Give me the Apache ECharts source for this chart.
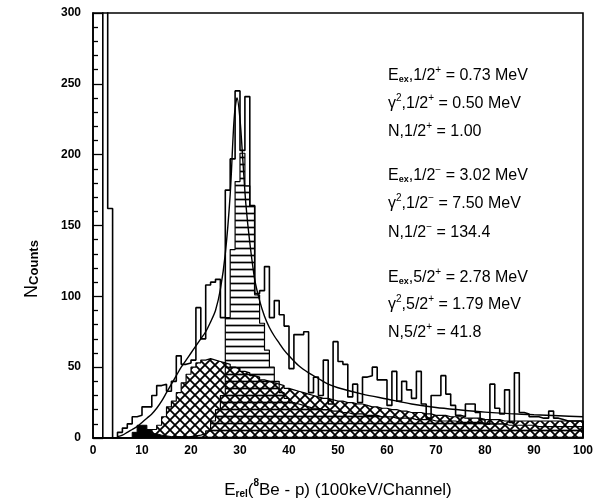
<!DOCTYPE html>
<html>
<head>
<meta charset="utf-8">
<script src="https://cdn.jsdelivr.net/npm/echarts@6/dist/echarts.min.js"></script>
<style>
html, body { margin: 0; padding: 0; background: #fff; }
#main { width: 596px; height: 504px; }
</style>
</head>
<body>
<div id="main"></div>
<script>
// counts per channel, bin i covers [i, i+1]
var dataCounts = [
    0, 0, 320, 162, 0, 4, 7, 10, 15, 16,
    22, 22, 30, 37, 38, 33, 40, 58, 52, 53,
    55, 92, 70, 108, 110, 112, 85, 175, 197, 245,
    203, 241, 164, 102, 104, 121, 85, 97, 87, 79,
    49, 73, 73, 75, 32, 43, 30, 55, 24, 68,
    54, 52, 29, 38, 25, 43, 44, 50, 41, 41,
    23, 47, 26, 40, 34, 28, 47, 24, 14, 30,
    30, 44, 31, 23, 16, 15, 24, 24, 18, 13,
    10, 38, 21, 17, 34, 11, 46, 18, 17, 15,
    15, 14, 14, 19, 14, 13, 12, 12, 12, 12
];
// horizontally hatched component
var narrowComp = [
    0, 0, 0, 0, 0, 0, 0, 0, 0, 0,
    0, 0, 0, 0, 0, 0, 0, 0, 0.5, 1,
    1.5, 2, 3, 5, 12, 20, 30, 85, 133, 181,
    201, 178, 164, 101, 81, 62, 50, 40, 32, 28,
    25, 24, 23, 22, 21, 21, 20, 20, 19, 19,
    18, 18, 17, 17, 17, 16, 16, 16, 15, 15,
    15, 14, 14, 14, 14, 13, 13, 13, 13, 12,
    12, 12, 12, 12, 11, 11, 11, 11, 11, 10,
    10, 10, 10, 10, 9, 9, 9, 9, 9, 9,
    8, 8, 8, 8, 8, 8, 8, 8, 8, 8
];
// cross hatched component
var broadComp = [
    0, 0, 0, 0, 0, 0, 0, 0, 0, 0,
    0.5, 2, 6, 9, 15, 22, 26, 32, 39, 45,
    50, 53, 55, 56, 55, 54, 53, 52, 50, 49,
    47, 46, 44, 43, 41, 40, 39, 38, 37, 35,
    34, 33, 32, 31, 30, 29, 28, 28, 27, 26,
    26, 25, 25, 24, 24, 23, 22, 22, 21, 21,
    20, 20, 19, 19, 18, 18, 18, 17, 17, 16,
    16, 16, 15, 15, 15, 14, 14, 14, 14, 13,
    13, 13, 13, 12, 12, 12, 12, 12, 12, 12,
    12, 12, 12, 12, 12, 12, 12, 12, 12, 12
];
// black filled component
var blackComp = [
    0, 0, 0, 0, 0, 0, 0, 0, 4, 9,
    9, 6, 3, 2, 1.5, 1, 1, 1, 0.8, 0.6,
    0.5, 0.4, 0.3, 0.3, 0.3, 0.3, 0.3, 0.3, 0, 0
];
// total fit curve
var fitX = [5, 6, 7, 8, 9, 10, 11, 12, 13, 14, 15, 16, 17, 18, 19, 20, 21, 22, 23, 24, 25, 26, 27, 28,
    28.8, 29.4, 30, 30.6, 31.2, 32, 33, 34, 35, 36, 37, 38, 39, 40, 42, 44, 46, 48, 50,
    55, 60, 65, 70, 75, 80, 85, 90, 95, 100];
var fitY = [1, 2, 4, 6, 8, 11, 14, 17, 21, 26, 32, 38, 44, 50, 55, 60, 65, 70, 75, 82, 90, 105, 130, 172,
    225, 240, 225, 195, 165, 138, 112, 97, 86, 78, 72, 67, 62, 58, 51, 46, 42, 38, 35.5,
    31, 27.5, 24, 21.5, 19.8, 18.3, 17.2, 16.4, 15.7, 15];

function histPoints(arr) {
    var pts = [];
    for (var i = 0; i < arr.length; i++) {
        pts.push([i, arr[i]]);
        pts.push([i + 1, arr[i]]);
    }
    pts.push([arr.length, 0]);
    return pts;
}

function makeHatch(type) {
    var c = document.createElement('canvas');
    var ctx = c.getContext('2d');
    ctx.strokeStyle = '#000';
    if (type == 'h') {
        c.width = 8; c.height = 7;
        ctx.lineWidth = 1.7;
        ctx.beginPath();
        ctx.moveTo(0, 3.5); ctx.lineTo(8, 3.5);
        ctx.stroke();
    } else {
        c.width = 10; c.height = 10;
        ctx.lineWidth = 1.8;
        ctx.beginPath();
        ctx.moveTo(-5, -5); ctx.lineTo(15, 15);
        ctx.moveTo(15, -5); ctx.lineTo(-5, 15);
        ctx.stroke();
    }
    return c;
}

var fitData = [];
for (var k = 0; k < fitX.length; k++) fitData.push([fitX[k], fitY[k]]);

var font = 'Liberation Sans';
var txt = { fontFamily: font, fontSize: 16, color: '#000', lineHeight: 19, verticalAlign: 'bottom' };
var sub = { fontFamily: font, fontSize: 9, color: '#000', fontWeight: 'bold', lineHeight: 19, verticalAlign: 'bottom' };
var sup = { fontFamily: font, fontSize: 10, color: '#000', lineHeight: 19, verticalAlign: 'top' };
var rich = { t: txt, s: sub, p: sup };

var notes = [
    ['{t|E}{s|ex}{t|,1/2}{p|+}{t| = 0.73 MeV}', 75],
    ['{t|γ}{p|2}{t|,1/2}{p|+}{t| = 0.50 MeV}', 103],
    ['{t|N,1/2}{p|+}{t| = 1.00}', 131],
    ['{t|E}{s|ex}{t|,1/2}{p|−}{t| = 3.02 MeV}', 175],
    ['{t|γ}{p|2}{t|,1/2}{p|−}{t| = 7.50 MeV}', 203],
    ['{t|N,1/2}{p|−}{t| = 134.4}', 232],
    ['{t|E}{s|ex}{t|,5/2}{p|+}{t| = 2.78 MeV}', 277],
    ['{t|γ}{p|2}{t|,5/2}{p|+}{t| = 1.79 MeV}', 304],
    ['{t|N,5/2}{p|+}{t| = 41.8}', 332]
];
var graphics = [];
notes.forEach(function (n) {
    graphics.push({
        type: 'text', left: 388, top: n[1] - 10,
        style: { text: n[0], rich: rich }
    });
});
// y axis title
graphics.push({
    type: 'text', x: 30, y: 269, rotation: Math.PI / 2,
    style: {
        text: '{n|N}{c|Counts}', align: 'center', verticalAlign: 'middle',
        rich: {
            n: { fontFamily: font, fontSize: 18, color: '#000', lineHeight: 22, verticalAlign: 'bottom' },
            c: { fontFamily: font, fontSize: 13, fontWeight: 'bold', color: '#000', lineHeight: 22, verticalAlign: 'bottom' }
        }
    }
});

var myChart = echarts.init(document.getElementById('main'));
var option = {
    animation: false,
    grid: { left: 93, right: 9, top: 13, bottom: 61, show: true, borderColor: '#000', borderWidth: 1.6 },
    graphic: graphics,
    xAxis: {
        type: 'value', min: 0, max: 100, interval: 10,
        name: '{t|E}{s|rel}{t|(}{p|8}{t|Be - p) (100keV/Channel)}',
        nameLocation: 'middle', nameGap: 40,
        nameTextStyle: {
            rich: {
                t: { fontFamily: font, fontSize: 17, color: '#000', lineHeight: 21, verticalAlign: 'bottom' },
                s: { fontFamily: font, fontSize: 10, fontWeight: 'bold', color: '#000', lineHeight: 21, verticalAlign: 'bottom' },
                p: { fontFamily: font, fontSize: 10, fontWeight: 'bold', color: '#000', lineHeight: 21, verticalAlign: 'top' }
            }
        },
        axisLine: { lineStyle: { color: '#000', width: 1.6 } },
        axisTick: { show: false },
        splitLine: { show: false },
        axisLabel: { fontFamily: font, fontWeight: 'bold', fontSize: 12, color: '#000', margin: 7 }
    },
    yAxis: {
        type: 'value', min: 0, max: 300, interval: 50,
        axisLine: { show: true, lineStyle: { color: '#000', width: 1.6 } },
        axisTick: { show: true, inside: true, length: 10, lineStyle: { color: '#000', width: 1.3 } },
        minorTick: { show: true, splitNumber: 5, length: 5, lineStyle: { color: '#000', width: 1.3 } },
        splitLine: { show: false },
        axisLabel: { fontFamily: font, fontWeight: 'bold', fontSize: 12, color: '#000', margin: 12 }
    },
    series: [
        {
            name: 'broad', type: 'line', data: histPoints(broadComp), symbol: 'none',
            lineStyle: { color: '#000', width: 1.2 },
            areaStyle: { color: { image: makeHatch('x'), repeat: 'repeat' }, opacity: 1 },
            z: 2
        },
        {
            name: 'narrow', type: 'line', data: histPoints(narrowComp), symbol: 'none',
            lineStyle: { color: '#000', width: 1.2 },
            areaStyle: { color: { image: makeHatch('h'), repeat: 'repeat' }, opacity: 1 },
            z: 3
        },
        {
            name: 'black', type: 'line', data: histPoints(blackComp), symbol: 'none',
            lineStyle: { color: '#000', width: 1 },
            areaStyle: { color: '#000', opacity: 1 },
            z: 4
        },
        {
            name: 'data', type: 'line', data: histPoints(dataCounts), symbol: 'none',
            lineStyle: { color: '#000', width: 1.6 },
            z: 5
        },
        {
            name: 'fit', type: 'line', data: fitData, symbol: 'none', smooth: 0.3,
            lineStyle: { color: '#000', width: 1.4 },
            z: 6
        }
    ]
};
myChart.setOption(option);
</script>
</body>
</html>
